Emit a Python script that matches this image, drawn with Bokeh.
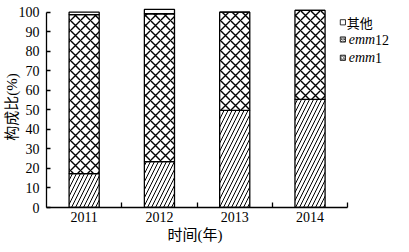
import math
from bokeh.plotting import figure
from bokeh.models import ColumnDataSource, FixedTicker, Label, Range1d, Title
from bokeh.embed import file_html
from bokeh.resources import INLINE

# ---- data ----
years = ["2011", "2012", "2013", "2014"]
emm1 = [17.3, 23.5, 49.7, 55.4]
emm12 = [81.5, 75.7, 50.3, 45.5]
other = [1.2, 2.2, 0.0, 0.0]
y_ticks = [0, 10, 20, 30, 40, 50, 60, 70, 80, 90, 100]
series_labels = ["其他", "emm12", "emm1"]

# ---- layout ----
W, H = 409, 252
FL, FB, FT = 45, 45, 6
frame_w = W - FL
frame_h = H - FB - FT
px_per_cat = 75.5
px_per_unit = 1.953
x_end = frame_w / px_per_cat
y_end = frame_h / px_per_unit

SERIF = "Liberation Serif"
CJK = "Liberation Serif, Noto Sans CJK SC"

p = figure(width=W, height=H, x_range=Range1d(0, x_end), y_range=Range1d(0, y_end),
           output_backend="svg", toolbar_location=None,
           min_border_left=FL, min_border_right=0, min_border_top=FT, min_border_bottom=FB)
p.outline_line_color = None
p.xgrid.grid_line_color = None
p.ygrid.grid_line_color = None
p.background_fill_color = "white"

xs = [i + 0.5 for i in range(len(years))]
src = ColumnDataSource(dict(x=xs, emm1=emm1, emm12=emm12, other=other))
p.vbar_stack(["emm1", "emm12", "other"], x="x", width=0.4, source=src,
             fill_color="white", line_color="black", line_width=1.3,
             hatch_pattern=["right_diagonal_line", "diagonal_cross", " "],
             hatch_scale=[8, 10, 8], hatch_color="black", hatch_weight=[1.0, 1.4, 1.0])

# x axis
xa = p.xaxis[0]
xa.ticker = FixedTicker(ticks=xs, minor_ticks=[1, 2, 3, 4])
xa.major_label_overrides = {x: y for x, y in zip(xs, years)}
xa.bounds = (0, len(years))
xa.major_tick_in = 0
xa.major_tick_out = 0
xa.minor_tick_in = 5
xa.minor_tick_out = 0
xa.minor_tick_line_color = "black"
xa.minor_tick_line_width = 1.3
xa.axis_line_width = 1.3
xa.major_label_standoff = 4
xa.major_label_text_font = SERIF
xa.major_label_text_font_size = "14px"
xa.major_label_text_color = "black"

# x title, centred under the bounded axis (left-aligned with an offset)
p.add_layout(Title(text="时间(年)", align="left", offset=121, standoff=0,
                   text_font=CJK, text_font_size="15px", text_font_style="normal",
                   text_color="black"), "below")

# y axis
ya = p.yaxis[0]
ya.ticker = FixedTicker(ticks=y_ticks)
ya.bounds = (0, 100)
ya.major_tick_in = 4
ya.major_tick_out = 0
ya.minor_tick_line_color = None
ya.axis_line_width = 1.3
ya.major_tick_line_width = 1.3
ya.major_label_standoff = 7
ya.major_label_text_font = SERIF
ya.major_label_text_font_size = "14px"
ya.major_label_text_color = "black"
ya.axis_label = "构成比(%)"
ya.axis_label_text_font = CJK
ya.axis_label_text_font_size = "15px"
ya.axis_label_text_font_style = "normal"
ya.axis_label_text_color = "black"
ya.axis_label_standoff = -4


def dx(px):
    return (px - FL) / px_per_cat


def dy(py):
    return (H - FB - py) / px_per_unit


# legend
rows_py = [21.8, 39.0, 57.3]
hatches = [" ", "diagonal_cross", "right_diagonal_line"]
scales = [4, 2.5, 3]
p.rect(x=[dx(342.2)] * 3, y=[dy(r) for r in rows_py], width=5.2, height=5.2,
       width_units="screen", height_units="screen", fill_color="white",
       line_color="black", line_width=0.8, hatch_pattern=hatches,
       hatch_scale=scales, hatch_color="#333333", hatch_weight=0.8)

p.add_layout(Label(x=dx(346), y=dy(rows_py[0]), text=series_labels[0], text_font="Noto Sans CJK SC",
                   text_font_size="13px", text_baseline="middle", text_color="black"))
for lab, r in zip(series_labels[1:], rows_py[1:]):
    ital = "emm"
    rest = lab[len(ital):]
    p.add_layout(Label(x=dx(348), y=dy(r), text=ital, text_font=SERIF, text_font_style="italic",
                       text_font_size="14px", text_baseline="middle", text_color="black"))
    p.add_layout(Label(x=dx(374.5), y=dy(r), text=rest, text_font=SERIF,
                       text_font_size="14px", text_baseline="middle", text_color="black"))

open("out.html", "w").write(file_html(p, INLINE))
